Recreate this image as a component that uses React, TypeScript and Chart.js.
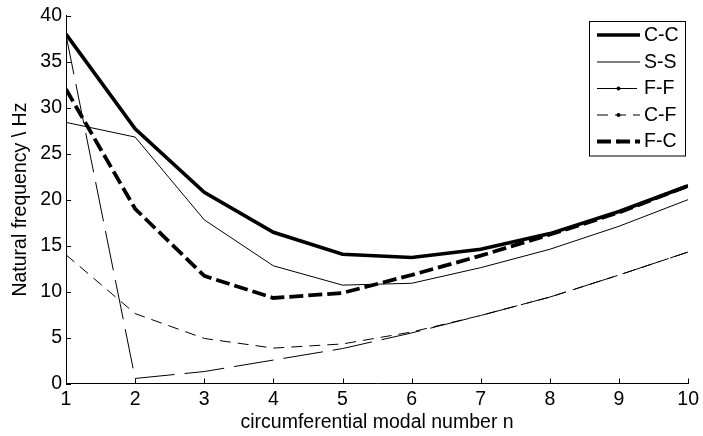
import { useEffect, useRef } from "react";
import { Chart, registerables } from "chart.js";

Chart.register(...registerables);

const modes = [1, 2, 3, 4, 5, 6, 7, 8, 9, 10];
const seriesNames = ["C-C", "S-S", "F-F", "C-F", "F-C"];
const ccValues = [38.0, 27.7, 20.8, 16.45, 14.05, 13.7, 14.6, 16.3, 18.7, 21.5];
const ssValues = [28.4, 26.8, 17.8, 12.8, 10.7, 10.9, 12.6, 14.6, 17.1, 20.0];
const ffValues = [37.9, 0.55, 1.3, 2.55, 3.8, 5.5, 7.4, 9.4, 11.8, 14.3];
const cfValues = [14.0, 7.6, 4.9, 3.85, 4.3, 5.6, 7.4, 9.4, 11.8, 14.3];
const fcValues = [32.0, 19.0, 11.7, 9.3, 9.85, 11.8, 13.9, 16.2, 18.6, 21.5];
const xTitle = "circumferential modal number n";
const yTitle = "Natural frequency \\ Hz";

const FONT = "Arial, 'Liberation Sans', Helvetica, sans-serif";
const FS = 19.5;

const styles = [
  { width: 3.6, dash: [] as number[], marker: false },
  { width: 1, dash: [] as number[], marker: false },
  { width: 1, dash: [40, 10], marker: true },
  { width: 1, dash: [11, 7], marker: true },
  { width: 3.8, dash: [14, 5], marker: true },
];

const seriesValues = [ccValues, ssValues, ffValues, cfValues, fcValues];

const axisTicksPlugin = {
  id: "inwardTicks",
  afterDatasetsDraw(chart: any) {
    const { ctx, chartArea, scales } = chart;
    const xs = scales.x;
    const ys = scales.y;
    ctx.save();
    ctx.strokeStyle = "#000";
    ctx.lineWidth = 1;
    ctx.beginPath();
    for (const m of modes) {
      const px = Math.round(xs.getPixelForValue(m)) + 0.5;
      ctx.moveTo(px, chartArea.bottom);
      ctx.lineTo(px, chartArea.bottom - 5);
    }
    for (let v = 0; v <= 40; v += 5) {
      const py = Math.round(ys.getPixelForValue(v)) + 0.5;
      ctx.moveTo(chartArea.left, py);
      ctx.lineTo(chartArea.left + 5, py);
    }
    ctx.stroke();
    ctx.restore();
  },
};

const legendPlugin = {
  id: "boxLegend",
  afterDraw(chart: any) {
    const { ctx } = chart;
    const ds = chart.data.datasets;
    const bx = 589.5, by = 21.5, bw = 96, bh = 134.5;
    ctx.save();
    ctx.fillStyle = "#fff";
    ctx.fillRect(bx, by, bw, bh);
    ctx.strokeStyle = "#000";
    ctx.lineWidth = 1;
    ctx.setLineDash([]);
    ctx.strokeRect(bx, by, bw, bh);
    const rowY = [35, 62, 88.5, 115, 141.5];
    ds.forEach((d: any, i: number) => {
      const y = rowY[i];
      ctx.strokeStyle = "#000";
      ctx.lineWidth = d.borderWidth;
      ctx.setLineDash(d.borderDash || []);
      ctx.beginPath();
      ctx.moveTo(597, y);
      ctx.lineTo(640, y);
      ctx.stroke();
      ctx.setLineDash([]);
      if (styles[i].marker) {
        ctx.fillStyle = "#000";
        ctx.beginPath();
        ctx.arc(618.5, y, 2, 0, Math.PI * 2);
        ctx.fill();
      }
      ctx.fillStyle = "#000";
      ctx.font = `${FS}px ${FONT}`;
      ctx.textBaseline = "middle";
      ctx.textAlign = "left";
      ctx.fillText(d.label, 644, y + 0.5);
    });
    ctx.restore();
  },
};

export default function App() {
  const ref = useRef<HTMLCanvasElement | null>(null);

  useEffect(() => {
    document.body.style.margin = "0";
    const canvas = ref.current;
    if (!canvas) return;
    const chart = new Chart(canvas, {
      type: "line",
      data: {
        datasets: seriesNames.map((name, i) => ({
          label: name,
          data: modes.map((m, j) => ({ x: m, y: seriesValues[i][j] })),
          borderColor: "#000",
          backgroundColor: "#000",
          borderWidth: styles[i].width,
          borderDash: styles[i].dash,
          pointRadius: 0,
          tension: 0,
          fill: false,
          borderJoinStyle: "miter" as const,
          borderCapStyle: "butt" as const,
          order: 4 - i,
        })),
      },
      options: {
        responsive: false,
        animation: false,
        devicePixelRatio: 1,
        layout: { padding: { left: 0, right: 11, top: 14.5, bottom: 0 } },
        plugins: {
          legend: { display: false },
          tooltip: { enabled: false },
        },
        scales: {
          x: {
            type: "linear",
            min: 1,
            max: 10,
            afterFit: (s: any) => {
              s.height = 52.5;
            },
            ticks: {
              stepSize: 1,
              color: "#000",
              font: { family: FONT, size: FS },
              padding: 4,
              maxRotation: 0,
            },
            grid: { display: true, drawOnChartArea: false, drawTicks: false },
            border: { display: true, color: "#000", width: 1 },
            title: {
              display: true,
              text: xTitle,
              color: "#000",
              font: { family: FONT, size: FS, lineHeight: 1.2 },
              padding: { top: 0, bottom: 2 },
            },
          },
          y: {
            type: "linear",
            min: 0,
            max: 40,
            afterFit: (s: any) => {
              s.width = 66;
            },
            ticks: {
              stepSize: 5,
              color: "#000",
              font: { family: FONT, size: FS },
              padding: 4,
            },
            grid: { display: true, drawOnChartArea: false, drawTicks: false },
            border: { display: true, color: "#000", width: 1 },
            title: {
              display: true,
              text: yTitle,
              color: "#000",
              font: { family: FONT, size: FS, lineHeight: 1.2 },
              padding: { top: 9, bottom: 0 },
            },
          },
        },
      },
      plugins: [axisTicksPlugin, legendPlugin],
    });
    return () => chart.destroy();
  }, []);

  return (
    <div style={{ width: 703, height: 436, background: "#fff" }}>
      <canvas ref={ref} width={703} height={436} style={{ display: "block" }} />
    </div>
  );
}
